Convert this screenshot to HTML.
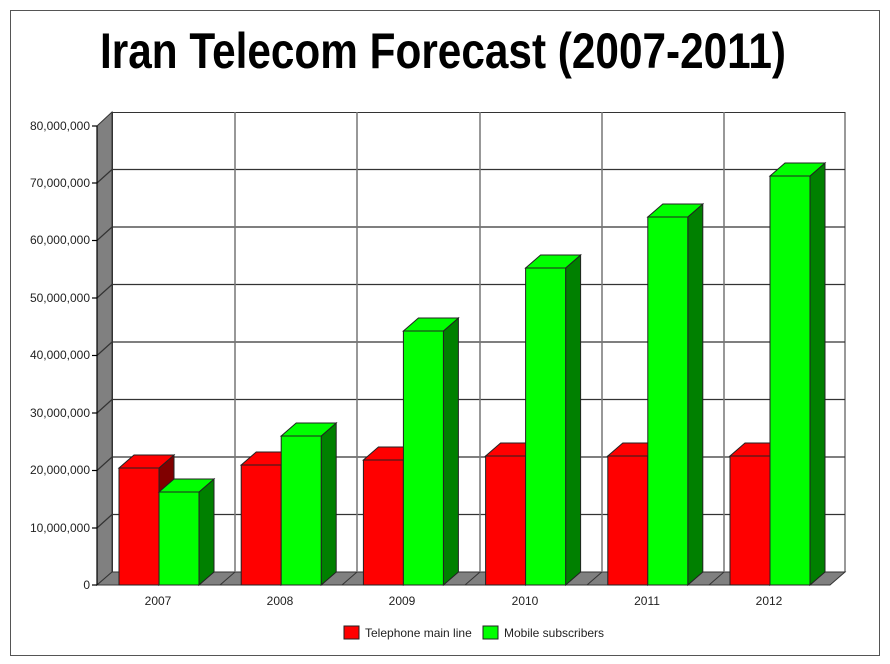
<!DOCTYPE html>
<html><head><meta charset="utf-8"><style>body{margin:0;background:#fff}svg{display:block}</style></head><body>
<svg width="890" height="664" viewBox="0 0 890 664" xmlns="http://www.w3.org/2000/svg" font-family="Liberation Sans, Arial, sans-serif">
<rect x="0" y="0" width="890" height="664" fill="#fff"/>
<rect x="10.5" y="10.5" width="869" height="645" fill="none" stroke="#555" stroke-width="1"/>
<text x="443" y="68" text-anchor="middle" font-size="50" font-weight="bold" textLength="686" lengthAdjust="spacingAndGlyphs" fill="#000">Iran Telecom Forecast (2007-2011)</text>
<!-- left wall -->
<polygon points="97,126 112,112 112,572 97,585" fill="#808080" stroke="#333" stroke-width="1"/>
<!-- floor -->
<polygon points="97,585 112,572 845,572 830,585" fill="#808080" stroke="#333" stroke-width="1"/>
<!-- back wall -->
<rect x="112.5" y="112.5" width="732.5" height="459.5" fill="#fff" stroke="#333"/>
<g stroke="#333" stroke-width="1.2">
<line x1="112" y1="169.5" x2="845" y2="169.5"/><line x1="112" y1="227" x2="845" y2="227"/>
<line x1="112" y1="284.5" x2="845" y2="284.5"/><line x1="112" y1="342" x2="845" y2="342"/>
<line x1="112" y1="399.5" x2="845" y2="399.5"/><line x1="112" y1="457" x2="845" y2="457"/>
<line x1="112" y1="514.5" x2="845" y2="514.5"/>
<line x1="97" y1="183" x2="112" y2="169.5"/><line x1="97" y1="240.5" x2="112" y2="227"/>
<line x1="97" y1="298" x2="112" y2="284.5"/><line x1="97" y1="355.5" x2="112" y2="342"/>
<line x1="97" y1="413" x2="112" y2="399.5"/><line x1="97" y1="470.5" x2="112" y2="457"/>
<line x1="97" y1="528" x2="112" y2="514.5"/>
</g>
<g stroke="#777" stroke-width="1.5">
<line x1="235" y1="112" x2="235" y2="572"/><line x1="357" y1="112" x2="357" y2="572"/>
<line x1="480" y1="112" x2="480" y2="572"/><line x1="602" y1="112" x2="602" y2="572"/>
<line x1="724" y1="112" x2="724" y2="572"/>
</g>
<g stroke="#333"><line x1="220" y1="585" x2="235" y2="572"/><line x1="342" y1="585" x2="357" y2="572"/><line x1="465" y1="585" x2="480" y2="572"/><line x1="587" y1="585" x2="602" y2="572"/><line x1="709" y1="585" x2="724" y2="572"/></g>
<!-- y axis -->
<g stroke="#000" stroke-width="1.2"><line x1="97" y1="126" x2="97" y2="585"/>
<line x1="92" y1="126" x2="97" y2="126"/><line x1="92" y1="183" x2="97" y2="183"/><line x1="92" y1="240.5" x2="97" y2="240.5"/><line x1="92" y1="298" x2="97" y2="298"/><line x1="92" y1="355.5" x2="97" y2="355.5"/><line x1="92" y1="413" x2="97" y2="413"/><line x1="92" y1="470.5" x2="97" y2="470.5"/><line x1="92" y1="528" x2="97" y2="528"/><line x1="92" y1="585" x2="97" y2="585"/></g>
<g font-size="12" text-anchor="end" fill="#222">
<text x="90" y="130">80,000,000</text><text x="90" y="187">70,000,000</text><text x="90" y="244">60,000,000</text><text x="90" y="302">50,000,000</text><text x="90" y="359">40,000,000</text><text x="90" y="417">30,000,000</text><text x="90" y="474">20,000,000</text><text x="90" y="532">10,000,000</text><text x="90" y="589">0</text>
</g>
<g font-size="12" text-anchor="middle" fill="#222">
<text x="158" y="605">2007</text><text x="280" y="605">2008</text><text x="402" y="605">2009</text><text x="525" y="605">2010</text><text x="647" y="605">2011</text><text x="769" y="605">2012</text>
</g>
<g id="bars" stroke="#222" stroke-width="1"></g>
<script>
var g=document.getElementById('bars'),ns='http://www.w3.org/2000/svg';
var red=[468,465,460,456,456,456],grn=[492,436,331,268,217,176];
function bar(x,t,f,s,d){var b=585,w=40;
 function p(pts,c){var e=document.createElementNS(ns,'polygon');e.setAttribute('points',pts);e.setAttribute('fill',c);g.appendChild(e);}
 p((x+w)+','+t+' '+(x+w+15)+','+(t-13)+' '+(x+w+15)+','+(b-13)+' '+(x+w)+','+b,s);
 p(x+','+t+' '+(x+15)+','+(t-13)+' '+(x+w+15)+','+(t-13)+' '+(x+w)+','+t,d);
 p(x+','+t+' '+(x+w)+','+t+' '+(x+w)+','+b+' '+x+','+b,f);}
for(var i=0;i<6;i++){var x=119+122.2*i;bar(x,red[i],'#ff0000','#800000','#ff0000');bar(x+40,grn[i],'#00ff00','#008000','#00ff00');}
</script>
<rect x="344" y="626" width="15" height="13" fill="#ff0000" stroke="#222"/>
<text x="365" y="637" font-size="12" fill="#222">Telephone main line</text>
<rect x="483" y="626" width="15" height="13" fill="#00ff00" stroke="#222"/>
<text x="504" y="637" font-size="12" fill="#222">Mobile subscribers</text>
</svg>
</body></html>
